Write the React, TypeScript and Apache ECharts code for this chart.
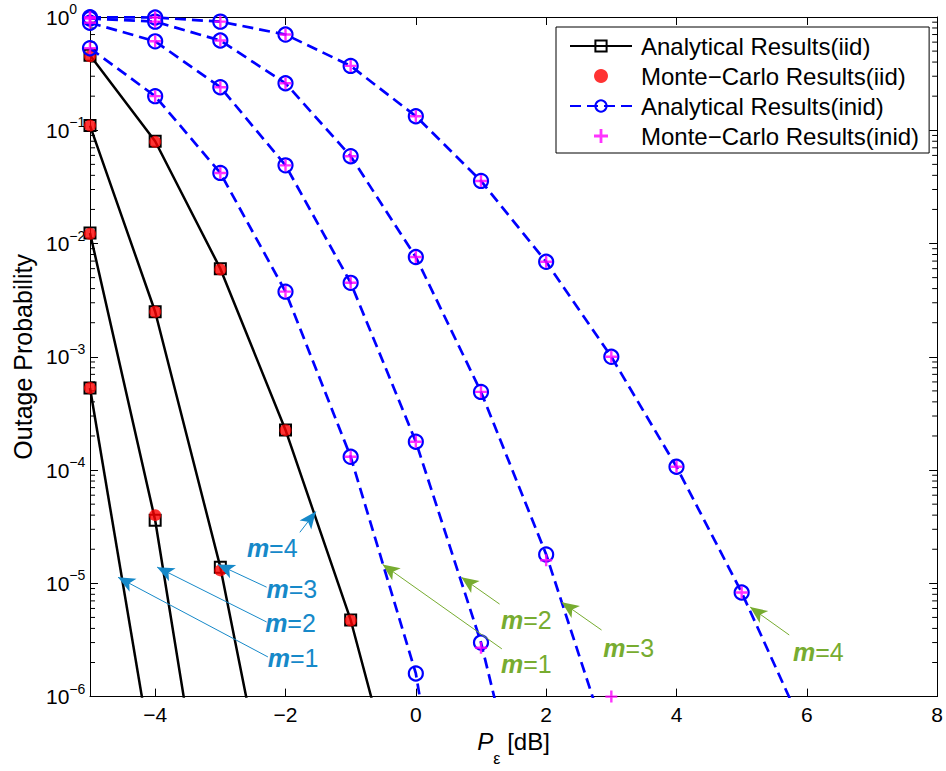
import React, { useEffect, useRef } from 'react';
import * as echarts from 'echarts';

// ---------- data ----------
const pEps = [-5, -4, -3, -2, -1, 0, 1, 2, 3, 4, 5, 6];

// i.i.d. analytical (m = 1..4), values continue below 10^-6 (clipped)
const iidAnalytical = [
  [5.3e-4, 2.0e-7],
  [1.24e-2, 3.6e-5, 1.0e-8],
  [0.11, 2.5e-3, 1.39e-5, 1.8e-8],
  [0.46, 0.08, 6.0e-3, 2.26e-4, 4.75e-6, 3.3e-8],
];
// i.i.d. Monte-Carlo
const iidMonteCarlo = [
  [5.3e-4],
  [1.22e-2, 4.0e-5],
  [0.11, 2.5e-3, 1.3e-5],
  [0.45, 0.079, 5.9e-3, 2.25e-4, 4.7e-6],
];
// i.n.i.d. analytical
const inidAnalytical = [
  [0.53, 0.2, 0.042, 3.76e-3, 1.31e-4, 1.6e-6, 6e-10],
  [0.89, 0.61, 0.24, 0.049, 4.5e-3, 1.78e-4, 3.0e-6, 1.3e-8],
  [0.97, 0.91, 0.62, 0.26, 0.059, 7.6e-3, 4.9e-4, 1.8e-5, 3.1e-7],
  [0.995, 0.99, 0.91, 0.7, 0.37, 0.133, 0.0357, 6.9e-3, 1.0e-3, 1.07e-4, 8.3e-6, 4.5e-7],
];
// i.n.i.d. Monte-Carlo
const inidMonteCarlo = [
  [0.53, 0.2, 0.042, 3.76e-3, 1.31e-4],
  [0.89, 0.61, 0.24, 0.049, 4.5e-3, 1.78e-4, 2.7e-6],
  [0.97, 0.91, 0.62, 0.26, 0.059, 7.6e-3, 4.9e-4, 1.6e-5, 1.0e-6],
  [0.995, 0.99, 0.91, 0.7, 0.37, 0.133, 0.0357, 6.9e-3, 1.0e-3, 1.07e-4, 8.3e-6],
];

const xTickValues = [-4, -2, 0, 2, 4, 6, 8];
const xInnerTicks = [-4, -2, 0, 2, 4, 6];
const yDecades = [-6, -5, -4, -3, -2, -1];
const yMinorMultipliers = [2, 3, 4, 5, 6, 7, 8, 9];

const seriesNames = [
  'Analytical Results(iid)',
  'Monte\u2212Carlo Results(iid)',
  'Analytical Results(inid)',
  'Monte\u2212Carlo Results(inid)',
];

// annotation arrows (data coordinates): tail -> head, label anchor
const blueAnnotations = [
  { m: '1', tail: [-2.27, 2.24e-6], head: [-4.57, 1.13e-5], label: [-2.28, 2.2e-6] },
  { m: '2', tail: [-2.29, 4.56e-6], head: [-3.97, 1.39e-5], label: [-2.32, 4.47e-6] },
  { m: '3', tail: [-2.29, 9.25e-6], head: [-3.04, 1.47e-5], label: [-2.30, 8.9e-6] },
  { m: '4', tail: [-1.78, 2.82e-5], head: [-1.535, 4.3e-5], label: [-2.60, 2.04e-5] },
];
const greenAnnotations = [
  { m: '1', tail: [1.32, 2.64e-6], head: [-0.51, 1.47e-5], label: [1.30, 1.95e-6] },
  { m: '2', tail: [1.285, 6.56e-6], head: [0.70, 1.13e-5], label: [1.30, 4.74e-6] },
  { m: '3', tail: [2.85, 3.87e-6], head: [2.24, 6.82e-6], label: [2.87, 2.69e-6] },
  { m: '4', tail: [5.73, 3.5e-6], head: [5.13, 6.17e-6], label: [5.78, 2.48e-6] },
];

// ---------- styles ----------
const FONT = '"Liberation Sans", Arial, Helvetica, sans-serif';
const BLUE_ANN = '#1689c9';
const GREEN_ANN = '#77ac30';
const PLUS_PATH = 'path://M4,0H6V4H10V6H6V10H4V6H0V4H4Z';

const toPairs = (vals: number[]) => vals.map((v, i) => [pEps[i], v]);

function annoMarkers(annos: any[], color: string) {
  return {
    markLine: {
      silent: true,
      animation: false,
      symbol: ['none', 'arrow'],
      symbolSize: [11, 17],
      label: { show: false },
      lineStyle: { color, width: 1, type: 'solid' },
      emphasis: { disabled: true },
      data: annos.map((a) => [{ coord: a.tail }, { coord: a.head }]),
    },
    markPoint: {
      silent: true,
      animation: false,
      symbol: 'rect',
      symbolSize: 1,
      itemStyle: { color: 'transparent' },
      label: {
        show: true,
        position: 'right',
        distance: 0,
        formatter: (p: any) => `{m|m}{t|=${p.value}}`,
        rich: {
          m: { fontStyle: 'italic', fontWeight: 'bold', fontSize: 25, color, fontFamily: FONT },
          t: { fontSize: 25, color, fontFamily: FONT },
        },
      },
      data: annos.map((a) => ({ coord: a.label, value: a.m })),
    },
  };
}

export default function App() {
  const ref = useRef<HTMLDivElement>(null);

  useEffect(() => {
    if (!ref.current) return;
    const chart = echarts.init(ref.current, null, { renderer: 'svg' });

    const minorTicks: number[][] = [];
    yDecades.forEach((d) =>
      yMinorMultipliers.forEach((k) => minorTicks.push([-5, k * Math.pow(10, d)]))
    );

    const series: any[] = [];
    iidAnalytical.forEach((vals, i) => {
      series.push({
        name: seriesNames[0],
        type: 'line',
        data: toPairs(vals),
        symbol: 'rect',
        symbolSize: 11,
        showSymbol: true,
        clip: true,
        itemStyle: { color: 'transparent', borderColor: '#000', borderWidth: 2 },
        lineStyle: { color: '#000', width: 2.5 },
        z: 2,
        ...(i === 3 ? annoMarkers(blueAnnotations, BLUE_ANN) : {}),
      });
    });
    iidMonteCarlo.forEach((vals) => {
      series.push({
        name: seriesNames[1],
        type: 'scatter',
        data: toPairs(vals),
        symbol: 'circle',
        symbolSize: 12,
        clip: false,
        itemStyle: { color: '#ff0000' },
        z: 3,
      });
    });
    inidAnalytical.forEach((vals, i) => {
      series.push({
        name: seriesNames[2],
        type: 'line',
        data: toPairs(vals),
        symbol: 'circle',
        symbolSize: 14,
        showSymbol: true,
        clip: true,
        itemStyle: { color: 'transparent', borderColor: '#0000ff', borderWidth: 2.2 },
        lineStyle: { color: '#0000ff', width: 2.7, type: [11, 6] },
        z: 4,
        ...(i === 3 ? annoMarkers(greenAnnotations, GREEN_ANN) : {}),
      });
    });
    inidMonteCarlo.forEach((vals) => {
      series.push({
        name: seriesNames[3],
        type: 'scatter',
        data: toPairs(vals),
        symbol: PLUS_PATH,
        symbolSize: 12,
        clip: false,
        itemStyle: { color: '#ff00ff' },
        z: 5,
      });
    });
    series.push({
      type: 'custom',
      name: 'minorTicks',
      silent: true,
      clip: false,
      data: minorTicks,
      z: 1,
      renderItem: (params: any, api: any) => {
        const y = api.coord([-5, api.value(1)])[1];
        const cs = params.coordSys;
        return {
          type: 'group',
          children: [
            { type: 'line', shape: { x1: cs.x, y1: y, x2: cs.x + 5, y2: y }, style: { stroke: '#000', lineWidth: 1 } },
            { type: 'line', shape: { x1: cs.x + cs.width - 5, y1: y, x2: cs.x + cs.width, y2: y }, style: { stroke: '#000', lineWidth: 1 } },
          ],
        };
      },
    });

    const axisLineStyle = { onZero: false, lineStyle: { color: '#000', width: 1 } };
    const yLabelFormatter = (v: number) => {
      const e = Math.round(Math.log10(v));
      return `{b|10}{s|${e === 0 ? '0' : '\u2212' + -e}}`;
    };

    chart.setOption({
      animation: false,
      backgroundColor: '#fff',
      textStyle: { fontFamily: FONT },
      grid: { left: 90, right: 8, top: 17, bottom: 71, containLabel: false },
      legend: {
        data: seriesNames,
        orient: 'vertical',
        left: 556,
        top: 27,
        backgroundColor: '#fff',
        borderColor: '#000',
        borderWidth: 1,
        borderRadius: 0,
        padding: [7, 10, 5, 13],
        itemGap: 6,
        itemWidth: 62,
        itemHeight: 14,
        selectedMode: false,
        textStyle: { fontSize: 24, fontFamily: FONT, color: '#000', padding: [0, 0, 0, 4] },
      },
      xAxis: [
        {
          type: 'value',
          min: -5,
          max: 8,
          position: 'bottom',
          splitLine: { show: false },
          axisLine: axisLineStyle,
          axisTick: { inside: true, length: 8, customValues: xInnerTicks, lineStyle: { color: '#000' } },
          axisLabel: {
            customValues: xTickValues,
            fontSize: 21,
            color: '#000',
            fontFamily: FONT,
            margin: 7,
            formatter: (v: number) => (v < 0 ? '\u2212' + -v : String(v)),
          },
          name: '{i|P}{sub|\u03b5}{t| [dB]}',
          nameLocation: 'middle',
          nameGap: 19,
          nameTextStyle: {
            rich: {
              i: { fontStyle: 'italic', fontSize: 24, color: '#000', fontFamily: FONT },
              sub: { fontSize: 16, color: '#000', fontFamily: FONT, padding: [33, 0, 0, 0] },
              t: { fontSize: 24, color: '#000', fontFamily: FONT },
            },
          },
        },
        {
          type: 'value',
          min: -5,
          max: 8,
          position: 'top',
          splitLine: { show: false },
          axisLine: axisLineStyle,
          axisTick: { inside: true, length: 8, customValues: xInnerTicks, lineStyle: { color: '#000' } },
          axisLabel: { show: false },
        },
      ],
      yAxis: [
        {
          type: 'log',
          logBase: 10,
          min: 1e-6,
          max: 1,
          position: 'left',
          splitLine: { show: false },
          axisLine: axisLineStyle,
          axisTick: { inside: true, length: 8, lineStyle: { color: '#000' } },
          axisLabel: {
            align: 'left',
            margin: 44,
            formatter: yLabelFormatter,
            rich: {
              b: { fontSize: 21, lineHeight: 21, color: '#000', fontFamily: FONT },
              s: { fontSize: 14, lineHeight: 14, color: '#000', fontFamily: FONT, padding: [0, 0, 16, 0] },
            },
          },
          name: 'Outage Probability',
          nameLocation: 'middle',
          nameGap: 55,
          nameTextStyle: { fontSize: 25, color: '#000', fontFamily: FONT },
        },
        {
          type: 'log',
          logBase: 10,
          min: 1e-6,
          max: 1,
          position: 'right',
          splitLine: { show: false },
          axisLine: axisLineStyle,
          axisTick: { inside: true, length: 8, lineStyle: { color: '#000' } },
          axisLabel: { show: false },
        },
      ],
      series,
    });

    return () => chart.dispose();
  }, []);

  return (
    <div
      ref={ref}
      style={{ position: 'fixed', left: 0, top: 0, width: 946, height: 771, background: '#fff' }}
    />
  );
}
